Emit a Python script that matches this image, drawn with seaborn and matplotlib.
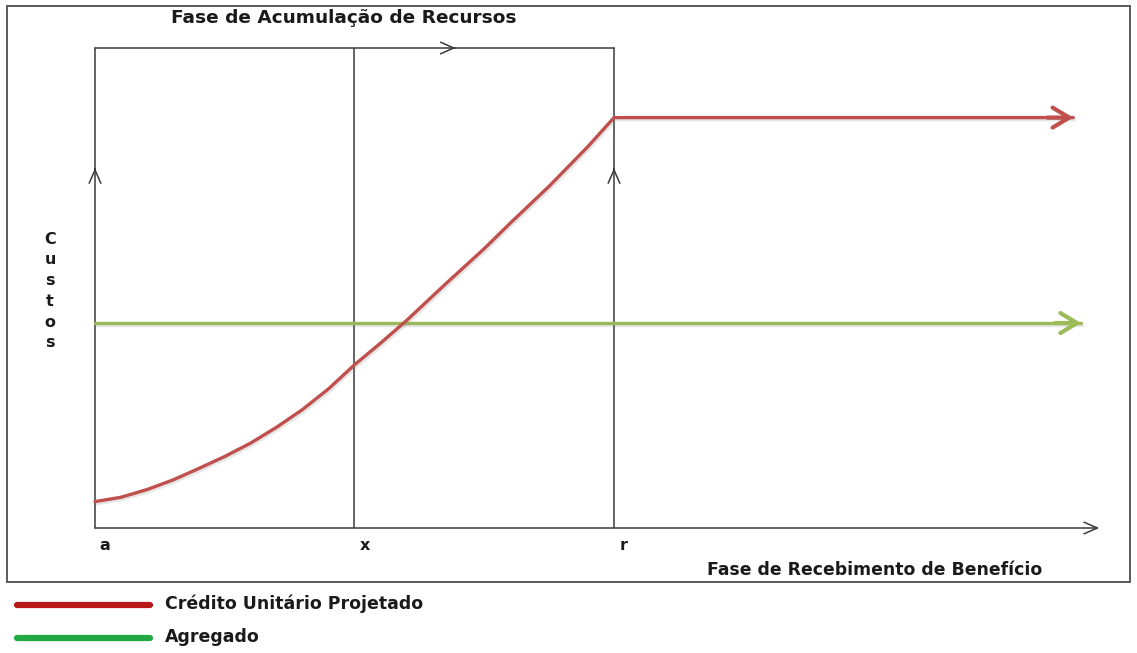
import numpy as np
import seaborn as sns
import matplotlib.pyplot as plt
import matplotlib.patheffects as pe
from matplotlib.patches import Rectangle

# phase markers on the time axis
phase_labels = ['a', 'x', 'r']
phase_pos = [0.0, 1.0, 2.0]
axis_end = 3.87
box_top = 10.0

# Crédito Unitário Projetado
credit_t = [0.0, 0.1, 0.2, 0.3, 0.4, 0.5, 0.6, 0.7, 0.8, 0.9, 1.0,
            1.1, 1.2, 1.35, 1.5, 1.6, 1.75, 1.9, 2.0, 3.77]
credit_cost = [0.55, 0.64, 0.80, 1.00, 1.24, 1.49, 1.77, 2.10, 2.47, 2.90, 3.40,
               3.85, 4.32, 5.08, 5.82, 6.35, 7.12, 7.95, 8.55, 8.55]

# Agregado
aggregate_t = [0.0, 3.80]
aggregate_cost = [4.27, 4.27]

legend_labels = ['Crédito Unitário Projetado', 'Agregado']
legend_colors = ['#b81818', '#22a845']

sns.set_theme(style='white')
plt.rcParams['font.family'] = ['DejaVu Sans']

W, H = 1137, 653
fig = plt.figure(figsize=(W / 100, H / 100), dpi=100)
ax = fig.add_axes([0, 0, 1, 1])

# map data units to the picture: t=0 -> px 95, t=2 -> px 614 ; cost 0 -> py 528, cost 10 -> py 48
px_per_t = (614 - 95) / 2.0
px_per_c = (528 - 48) / 10.0
ax.set_xlim(-95 / px_per_t, (W - 95) / px_per_t)
ax.set_ylim((528 - H) / px_per_c, 528 / px_per_c)
ax.axis('off')


def px(x, y):
    # picture pixel -> data coords (for text placement)
    return (x - 95) / px_per_t, (528 - y) / px_per_c


dark = '#3a3a3a'
chev = dict(arrowstyle='->,head_length=0.8,head_width=0.35',
            color=dark, lw=1.1, shrinkA=0, shrinkB=0)

# outer frame
x0, y0 = px(7, 582)
x1, y1 = px(1130, 6)
ax.add_patch(Rectangle((x0, y0), x1 - x0, y1 - y0, fill=False,
                       edgecolor='#5a5a5a', lw=1.4))

# frame of the accumulation phase and bottom axis
for p in phase_pos:
    ax.plot([p, p], [0, box_top], color=dark, lw=1.1)
ax.plot([phase_pos[0], phase_pos[-1]], [box_top, box_top], color=dark, lw=1.1)
ax.annotate('', xy=(axis_end, 0), xytext=(0, 0), arrowprops=chev)
# chevrons on the frame
ax.annotate('', xy=(1.39, box_top), xytext=(1.385, box_top), arrowprops=chev)
for p in [phase_pos[0], phase_pos[-1]]:
    ax.annotate('', xy=(p, 7.5), xytext=(p, 7.48), arrowprops=chev)

shadow = [pe.SimpleLineShadow(offset=(1, -1.5), alpha=0.18, shadow_color='#777777'),
          pe.Normal()]

sns.lineplot(x=aggregate_t, y=aggregate_cost, ax=ax, color='#9bbb59', lw=2.4,
             sort=False, path_effects=shadow)
sns.lineplot(x=credit_t, y=credit_cost, ax=ax, color='#c0504d', lw=2.4,
             sort=False, path_effects=shadow)

# arrow heads on the two series
head = '->,head_length=1.0,head_width=0.6'
ax.annotate('', xy=(credit_t[-1], credit_cost[-1]), xytext=(credit_t[-1] - 0.1, credit_cost[-1]),
            arrowprops=dict(arrowstyle=head, color='#c0504d', lw=3, shrinkA=0, shrinkB=0))
ax.annotate('', xy=(aggregate_t[-1], aggregate_cost[-1]),
            xytext=(aggregate_t[-1] - 0.1, aggregate_cost[-1]),
            arrowprops=dict(arrowstyle=head, color='#9bbb59', lw=3, shrinkA=0, shrinkB=0))

# texts
tkw = dict(fontweight='bold', color='#1a1a1a')
ax.text(*px(344, 18), 'Fase de Acumulação de Recursos', ha='center', va='center',
        fontsize=13.3, **tkw)
ax.text(*px(875, 570), 'Fase de Recebimento de Benefício', ha='center', va='center',
        fontsize=12.4, **tkw)
for lab, p in zip(phase_labels, phase_pos):
    ax.text(p + 10 / px_per_t, px(0, 546)[1], lab, ha='center', va='center',
            fontsize=11.5, **tkw)
ax.text(*px(50, 291), '\n'.join('Custos'), ha='center', va='center',
        fontsize=11.5, linespacing=1.48, **tkw)

# legend drawn as swatches below the frame
for i, (lab, col) in enumerate(zip(legend_labels, legend_colors)):
    yy = 605 + i * 33
    lx0, ly = px(17, yy)
    lx1, _ = px(150, yy)
    ax.plot([lx0, lx1], [ly, ly], color=col, lw=4.5, solid_capstyle='round')
    ax.text(*px(165, yy - 1), lab, ha='left', va='center', fontsize=12.5, **tkw)

fig.savefig('out.png', dpi=100)
